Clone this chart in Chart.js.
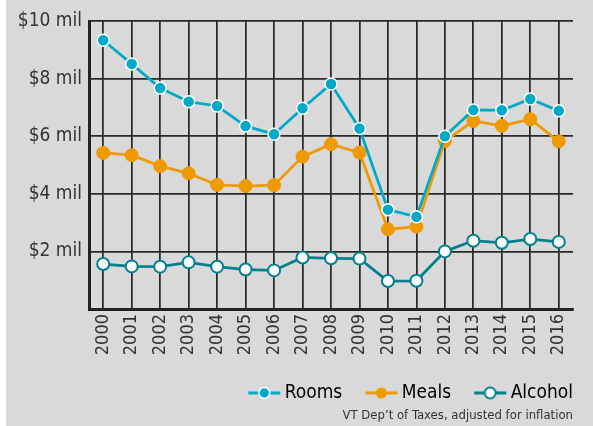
<!DOCTYPE html>
<html>
<head>
<meta charset="utf-8">
<script src="https://cdn.jsdelivr.net/npm/chart.js@4.4.1/dist/chart.umd.min.js"></script>
<style>
  html, body { margin: 0; padding: 0; background: #fff; }
  #wrap { width: 587px; height: 426px; margin-left: 6px; background: #d9d9d9; }
</style>
</head>
<body>
<div id="wrap"><canvas id="taxChart" width="587" height="426"></canvas></div>
<script>
// tax receipts, millions of dollars (inflation adjusted)
const years = ["2000", "2001", "2002", "2003", "2004", "2005", "2006", "2007", "2008",
  "2009", "2010", "2011", "2012", "2013", "2014", "2015", "2016"];
const rooms = [9.33, 8.51, 7.67, 7.2, 7.05, 6.35, 6.07, 6.97, 7.81, 6.27, 3.45, 3.2, 6.0, 6.91, 6.9, 7.29, 6.88];
const meals = [5.42, 5.34, 4.96, 4.71, 4.31, 4.27, 4.3, 5.29, 5.72, 5.43, 2.77, 2.86, 5.83, 6.53, 6.36, 6.59, 5.82];
const alcohol = [1.56, 1.48, 1.47, 1.62, 1.47, 1.37, 1.34, 1.79, 1.76, 1.75, 0.97, 0.98, 2.0, 2.37, 2.3, 2.43, 2.33];
const sourceNote = "VT Dep\u2019t of Taxes, adjusted for inflation";

const CYAN = "#00a9c6";
const ORANGE = "#ee9a00";
const TEAL = "#007f8e";
const INK = "#333333";
const GRID = "#2a2a2a";
const FONT = "'Liberation Sans Narrow', 'DejaVu Sans Condensed', sans-serif";

// little line-with-dot picture for the legend
function legendSymbol(color, fill, stroke, strokeWidth) {
  const c = document.createElement("canvas");
  c.width = 64;
  c.height = 16;
  const g = c.getContext("2d");
  g.strokeStyle = color;
  g.lineWidth = 3;
  g.beginPath();
  g.moveTo(30, 8);
  g.lineTo(62, 8);
  g.stroke();
  g.beginPath();
  g.arc(46, 8, 5.5, 0, Math.PI * 2);
  g.fillStyle = fill;
  g.fill();
  if (stroke) {
    g.lineWidth = strokeWidth;
    g.strokeStyle = stroke;
    g.stroke();
  }
  return c;
}

const symbols = [
  legendSymbol(CYAN, CYAN, "#ffffff", 1.5),
  legendSymbol(ORANGE, ORANGE, null, 0),
  legendSymbol(TEAL, "#ffffff", TEAL, 2)
];

const ctx = document.getElementById("taxChart").getContext("2d");

new Chart(ctx, {
  type: "line",
  data: {
    labels: years,
    datasets: [
      {
        label: "Rooms",
        data: rooms,
        borderColor: CYAN,
        backgroundColor: CYAN,
        borderWidth: 2.75,
        pointRadius: 6,
        pointBorderColor: "#ffffff",
        pointBorderWidth: 1.5,
        pointBackgroundColor: CYAN
      },
      {
        label: "Meals",
        data: meals,
        borderColor: ORANGE,
        backgroundColor: ORANGE,
        borderWidth: 2.75,
        pointRadius: 6.5,
        pointBorderColor: ORANGE,
        pointBorderWidth: 1,
        pointBackgroundColor: ORANGE
      },
      {
        label: "Alcohol",
        data: alcohol,
        borderColor: TEAL,
        backgroundColor: TEAL,
        borderWidth: 2.75,
        pointRadius: 6,
        pointBorderColor: TEAL,
        pointBorderWidth: 2,
        pointBackgroundColor: "#ffffff"
      }
    ]
  },
  options: {
    responsive: false,
    animation: false,
    layout: { padding: { left: 0, right: 20, top: 21, bottom: 0 } },
    scales: {
      x: {
        offset: true,
        afterFit: scale => { scale.height = 74.4; },
        grid: { color: GRID, lineWidth: 1.75, offset: false, drawTicks: false },
        border: { display: true, color: "#222", width: 3 },
        ticks: {
          color: INK,
          font: { family: FONT, size: 18 },
          minRotation: 90,
          maxRotation: 90,
          padding: 5
        }
      },
      y: {
        min: 0,
        max: 10,
        afterFit: scale => { scale.width = 83; },
        grid: { color: GRID, lineWidth: 1.75, drawTicks: false },
        border: { display: true, color: "#222", width: 3 },
        ticks: {
          stepSize: 2,
          color: INK,
          padding: 7,
          font: { family: FONT, size: 19 },
          callback: v => (v === 0 ? "" : "$" + v + " mil")
        }
      }
    },
    plugins: {
      tooltip: { enabled: false },
      legend: {
        position: "bottom",
        align: "end",
        labels: {
          color: INK,
          font: { family: FONT, size: 19 },
          usePointStyle: true,
          pointStyleWidth: 50,
          padding: 0,
          generateLabels: chart => chart.data.datasets.map((ds, i) => ({
            text: ds.label,
            pointStyle: symbols[i],
            fillStyle: ds.borderColor,
            strokeStyle: ds.borderColor,
            lineWidth: 0,
            hidden: false,
            datasetIndex: i
          }))
        }
      },
      subtitle: {
        display: true,
        text: sourceNote,
        position: "bottom",
        align: "end",
        color: INK,
        font: { family: FONT, size: 13 },
        padding: { top: -5, bottom: 3 }
      }
    }
  }
});
</script>
</body>
</html>
